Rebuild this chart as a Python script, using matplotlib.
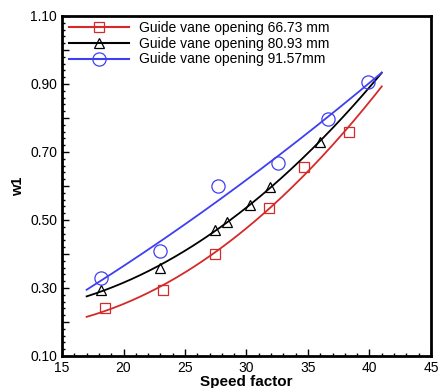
import numpy as np
import matplotlib
matplotlib.use("Agg")
import matplotlib.pyplot as plt
from matplotlib.ticker import MultipleLocator, FuncFormatter

plt.rcParams['font.family'] = ['Liberation Sans', 'DejaVu Sans']

# measured points (speed factor, w1)
x_6673 = [18.5, 23.2, 27.4, 31.85, 34.7, 38.3]
y_6673 = [0.241, 0.294, 0.400, 0.534, 0.655, 0.760]

x_8093 = [18.2, 23.0, 27.4, 28.4, 30.3, 31.9, 36.0]
y_8093 = [0.294, 0.358, 0.470, 0.495, 0.544, 0.598, 0.730]

x_9157 = [18.2, 23.0, 27.7, 32.6, 36.65, 39.85]
y_9157 = [0.328, 0.410, 0.600, 0.667, 0.797, 0.907]

labels = ['Guide vane opening 66.73 mm',
          'Guide vane opening 80.93 mm',
          'Guide vane opening 91.57mm']

fit_range = (17.0, 41.0)

series = [
    (x_6673, y_6673, '#d42a2a', 's', 6.5),
    (x_8093, y_8093, 'black', '^', 7.0),
    (x_9157, y_9157, '#3f3ff2', 'o', 9.5),
]

fig = plt.figure(figsize=(4.41, 3.88), dpi=100)
ax = fig.add_axes([0.1406, 0.0825, 0.8367, 0.8763])

xs = np.linspace(fit_range[0], fit_range[1], 200)
for (x, y, color, marker, ms), label in zip(series, labels):
    coef = np.polyfit(x, y, 2)
    ax.plot(xs, np.polyval(coef, xs), color=color, linewidth=1.3)
    ax.plot(x, y, linestyle='none', marker=marker, markersize=ms,
            markerfacecolor='none', markeredgecolor=color, markeredgewidth=0.9)
    ax.plot([], [], color=color, linewidth=1.5, marker=marker, markersize=ms,
            markerfacecolor='none', markeredgecolor=color, markeredgewidth=0.9,
            label=label)

ax.set_xlim(15, 45)
ax.set_ylim(0.10, 1.10)
ax.xaxis.set_major_locator(MultipleLocator(5))
ax.xaxis.set_minor_locator(MultipleLocator(1))
ax.yaxis.set_major_locator(MultipleLocator(0.1))
ax.yaxis.set_minor_locator(MultipleLocator(0.02))


def ylab(v, pos):
    k = int(round(v * 10))
    return f"{v:.2f}" if k % 2 == 1 else ""


ax.yaxis.set_major_formatter(FuncFormatter(ylab))
ax.tick_params(which='both', direction='in', top=False, right=False,
               labelsize=10, width=1.0)
ax.tick_params(which='major', length=5)
ax.tick_params(which='minor', length=2.5)
for s in ax.spines.values():
    s.set_linewidth(2.0)

ax.set_xlabel('Speed factor', fontsize=11, fontweight='bold', labelpad=0)
ax.set_ylabel('w1', fontsize=10.5, fontweight='bold', labelpad=4)

ax.legend(loc='upper left', frameon=False, fontsize=10, handlelength=4.3,
          borderaxespad=0.0, borderpad=0.2, labelspacing=0.12,
          handletextpad=0.75, bbox_to_anchor=(0.012, 0.993))

fig.savefig('out.png', dpi=100)
